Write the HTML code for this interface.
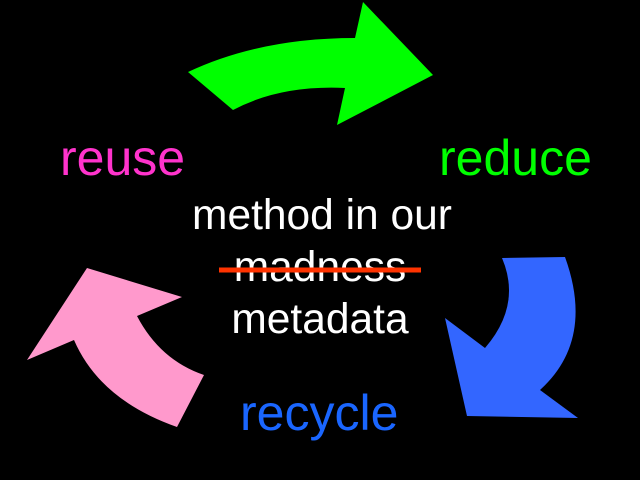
<!DOCTYPE html>
<html><head><meta charset="utf-8"><style>
html,body{margin:0;padding:0;background:#000;width:640px;height:480px;overflow:hidden}
svg{display:block}
text{font-family:"Liberation Sans",Arial,sans-serif}
</style></head><body>
<svg width="640" height="480" viewBox="0 0 640 480">
<rect width="640" height="480" fill="#000"/>
<path d="M188,72 Q260,38 355,38 L363,2 L433,75 L337,125 L345,88 Q280,85 233,110 Z" fill="#00ff00"/>
<path d="M502,258 L565,257 Q595,340 540,390 L578,418 L467,416 L445,318 L485,348 Q522,305 502,258 Z" fill="#3366ff"/>
<path d="M87,268 L182,297 L137,316 Q160,360 204,375 L177,427 Q100,400 74,340 L27,360 Z" fill="#ff99cc"/>
<text x="60" y="175" font-size="50" fill="#ff33cc">reuse</text>
<text x="439" y="175" font-size="50" fill="#00ff00">reduce</text>
<text x="240" y="430" font-size="50" fill="#1a66ff">recycle</text>
<text x="322" y="229" font-size="42.5" fill="#fff" text-anchor="middle">method in our</text>
<text x="320" y="281" font-size="42.5" fill="#fff" text-anchor="middle">madness</text>
<text x="320" y="333" font-size="42.5" fill="#fff" text-anchor="middle">metadata</text>
<line x1="219" y1="270" x2="421" y2="270" stroke="#ff3300" stroke-width="5"/>
</svg>
</body></html>
